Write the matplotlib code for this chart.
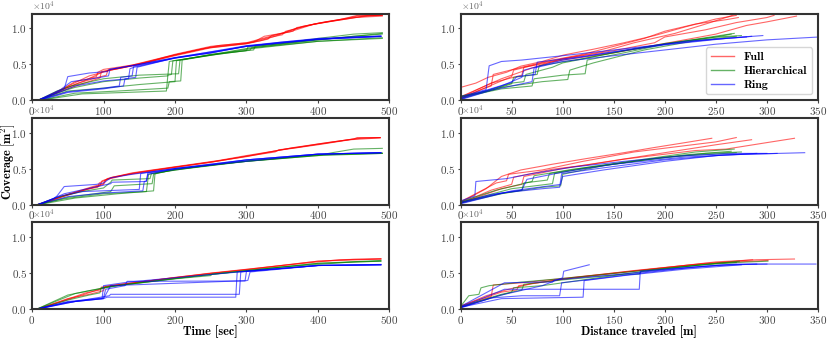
import matplotlib
matplotlib.use("Agg")
import matplotlib.pyplot as plt
from matplotlib.lines import Line2D

# coverage values are in thousands of m^2, one list of (x, coverage) points per run

# --- time, row 1
t1_full = [
    [(8, 0), (30, 0.9), (50, 1.8), (75, 2.8), (100, 4.0), (130, 4.6), (160, 5.2), (200, 6.3), (250, 7.4), (300, 7.9), (320, 8.3), (340, 8.9), (370, 10.0), (400, 10.7), (440, 11.4), (455, 11.7), (490, 11.8)],
    [(8, 0), (30, 0.8), (50, 1.6), (70, 2.3), (95, 3.1), (97, 4.0), (125, 4.5), (165, 5.4), (200, 6.2), (250, 7.3), (300, 7.85), (330, 8.5), (335, 9.0), (365, 9.6), (370, 10.1), (410, 10.9), (450, 11.5), (490, 11.7)],
    [(10, 0), (30, 1.0), (55, 2.2), (80, 3.4), (95, 3.8), (110, 4.2), (150, 5.0), (200, 6.4), (250, 7.5), (300, 8.0), (345, 9.2), (380, 10.3), (420, 11.0), (460, 11.6), (490, 11.9)],
    [(10, 0), (35, 1.1), (60, 2.6), (75, 2.9), (90, 3.3), (92, 3.9), (100, 4.3), (140, 4.9), (185, 6.0), (240, 7.2), (300, 7.9), (330, 8.7), (350, 9.1), (355, 9.6), (390, 10.5), (430, 11.2), (455, 11.8), (488, 11.8)],
    [(9, 0), (40, 1.4), (65, 2.4), (85, 3.0), (104, 3.5), (106, 4.2), (150, 5.1), (200, 6.3), (260, 7.6), (310, 8.1), (325, 8.9), (360, 9.5), (395, 10.6), (440, 11.3), (470, 11.8), (490, 11.8)],
]
t1_hier = [
    [(8, 0), (40, 1.2), (60, 1.8), (100, 2.6), (150, 3.1), (190, 3.4), (192, 5.4), (250, 6.3), (300, 6.9), (302, 7.4), (350, 7.9), (400, 8.6), (450, 9.2), (490, 9.4)],
    [(8, 0), (50, 1.3), (100, 1.7), (150, 2.2), (200, 2.6), (202, 5.5), (250, 6.4), (310, 7.0), (312, 7.5), (400, 8.4), (450, 8.9), (490, 9.2)],
    [(10, 0), (60, 1.0), (120, 1.3), (190, 1.7), (192, 2.6), (208, 2.7), (210, 5.6), (300, 7.1), (400, 8.2), (490, 8.7)],
    [(10, 0), (70, 0.9), (130, 1.1), (188, 1.3), (190, 3.5), (195, 3.6), (197, 5.5), (260, 6.4), (305, 7.0), (307, 7.3), (400, 8.2), (490, 8.6)],
    [(8, 0), (35, 1.3), (55, 2.0), (100, 3.0), (150, 3.5), (205, 3.7), (207, 5.6), (300, 7.2), (400, 8.4), (490, 9.3)],
]
t1_ring = [
    [(8, 0), (30, 0.9), (45, 1.6), (50, 3.3), (80, 3.8), (105, 4.0), (108, 4.3), (140, 4.8), (200, 5.9), (250, 6.6), (300, 7.5), (350, 8.1), (400, 8.5), (450, 8.8), (488, 8.9)],
    [(8, 0), (40, 1.2), (60, 2.0), (100, 2.7), (135, 3.0), (137, 4.4), (143, 4.6), (200, 5.9), (250, 6.6), (300, 7.55), (400, 8.5), (488, 8.9)],
    [(8, 0), (50, 1.2), (100, 1.7), (122, 2.0), (124, 3.2), (140, 3.4), (142, 4.7), (200, 5.85), (250, 6.6), (300, 7.5), (400, 8.45), (488, 8.85)],
    [(10, 0), (50, 1.1), (100, 1.6), (128, 2.0), (130, 3.0), (145, 3.2), (147, 4.6), (200, 5.9), (300, 7.6), (400, 8.6), (488, 8.95)],
    [(8, 0), (40, 1.5), (55, 2.6), (90, 3.1), (107, 3.4), (109, 4.3), (150, 5.0), (200, 5.95), (300, 7.5), (400, 8.5), (488, 8.9)],
]

# --- time, row 2
t2_full = [
    [(8, 0), (40, 1.0), (70, 1.9), (95, 2.6), (98, 3.3), (110, 3.7), (140, 4.3), (200, 5.2), (250, 5.9), (300, 6.7), (340, 7.3), (345, 7.6), (370, 7.9), (400, 8.4), (450, 9.1), (455, 9.3), (487, 9.3)],
    [(8, 0), (45, 1.2), (75, 2.1), (100, 2.8), (105, 3.6), (140, 4.4), (200, 5.25), (260, 6.1), (300, 6.8), (350, 7.6), (400, 8.3), (445, 9.0), (487, 9.25)],
    [(10, 0), (50, 1.4), (80, 2.2), (92, 2.4), (94, 3.0), (112, 3.8), (150, 4.5), (200, 5.2), (250, 5.85), (310, 6.9), (360, 7.8), (410, 8.5), (455, 9.2), (487, 9.3)],
    [(9, 0), (40, 1.1), (85, 2.5), (100, 2.9), (102, 3.4), (130, 4.1), (200, 5.15), (250, 5.9), (300, 6.65), (365, 7.9), (420, 8.7), (460, 9.2), (487, 9.3)],
]
t2_hier = [
    [(8, 0), (45, 0.8), (100, 1.5), (160, 1.8), (163, 4.2), (200, 4.8), (300, 6.0), (400, 6.8), (420, 7.2), (450, 7.7), (490, 7.8)],
    [(8, 0), (50, 1.0), (110, 1.8), (115, 2.6), (168, 2.9), (170, 4.2), (200, 4.9), (300, 6.0), (400, 6.9), (490, 7.15)],
    [(10, 0), (60, 0.9), (120, 1.5), (170, 1.9), (172, 4.3), (200, 4.85), (300, 6.05), (400, 6.9), (490, 7.1)],
    [(8, 0), (35, 1.0), (70, 1.8), (100, 2.3), (110, 3.1), (112, 3.4), (165, 3.6), (167, 4.3), (250, 5.5), (300, 6.0), (400, 6.8), (490, 7.1)],
]
t2_ring = [
    [(8, 0), (30, 0.8), (35, 1.2), (45, 2.5), (90, 2.8), (100, 3.0), (110, 3.7), (140, 4.2), (200, 5.0), (250, 5.5), (300, 6.2), (400, 7.0), (488, 7.2)],
    [(8, 0), (40, 1.2), (70, 1.8), (150, 2.1), (152, 4.3), (200, 5.0), (300, 6.2), (400, 7.0), (488, 7.2)],
    [(8, 0), (50, 1.1), (100, 1.6), (155, 1.9), (157, 3.2), (160, 3.3), (162, 4.4), (250, 5.5), (400, 7.0), (488, 7.2)],
    [(10, 0), (45, 1.5), (110, 2.9), (112, 3.1), (160, 3.2), (162, 4.2), (200, 5.0), (300, 6.2), (400, 7.0), (488, 7.2)],
]

# --- time, row 3
t3_full = [
    [(8, 0), (45, 1.1), (70, 1.9), (100, 2.9), (110, 3.2), (150, 3.7), (200, 4.3), (250, 4.9), (300, 5.4), (350, 6.0), (400, 6.6), (450, 6.85), (488, 6.9)],
    [(9, 0), (40, 1.0), (75, 2.2), (95, 2.6), (97, 3.0), (120, 3.3), (200, 4.35), (300, 5.45), (400, 6.6), (488, 6.9)],
    [(10, 0), (50, 1.4), (80, 2.0), (100, 2.5), (102, 3.1), (150, 3.7), (250, 4.95), (350, 6.0), (430, 6.8), (488, 6.95)],
]
t3_hier = [
    [(8, 0), (30, 1.0), (50, 1.9), (80, 2.5), (100, 2.85), (120, 3.2), (200, 4.2), (300, 5.3), (400, 6.3), (488, 6.6)],
    [(8, 0), (40, 1.3), (60, 2.1), (90, 2.7), (110, 3.1), (200, 4.15), (250, 4.6), (252, 4.8), (300, 5.25), (400, 6.3), (488, 6.7)],
    [(10, 0), (50, 1.2), (80, 1.9), (95, 2.2), (97, 2.9), (150, 3.6), (250, 4.75), (350, 5.8), (450, 6.5), (488, 6.6)],
]
t3_ring = [
    [(8, 0), (50, 0.9), (98, 1.4), (100, 3.2), (135, 3.7), (200, 4.3), (300, 5.2), (400, 6.0), (488, 6.1)],
    [(10, 0), (60, 1.0), (100, 1.4), (105, 1.6), (285, 1.6), (287, 5.1), (300, 5.2), (400, 6.0), (488, 6.1)],
    [(10, 0), (60, 1.0), (108, 1.8), (110, 2.0), (290, 2.0), (292, 5.1), (400, 6.0), (488, 6.1)],
    [(9, 0), (50, 1.0), (100, 1.5), (103, 2.7), (130, 3.2), (133, 3.8), (298, 3.85), (300, 5.2), (400, 6.0), (488, 6.1)],
    [(9, 0), (50, 0.9), (100, 1.4), (110, 3.2), (300, 3.9), (302, 3.95), (305, 5.1), (400, 6.0), (488, 6.15)],
]

# --- distance, row 1
d1_full = [
    [(0, 1.8), (15, 2.4), (27, 3.2), (45, 3.9), (59, 4.75), (80, 5.4), (101, 6.3), (130, 7.1), (160, 8.0), (190, 9.0), (220, 10.2), (250, 11.3), (270, 11.8)],
    [(0, 0.3), (20, 1.5), (30, 2.0), (32, 3.6), (60, 4.6), (90, 5.6), (120, 6.4), (150, 7.5), (180, 8.6), (200, 9.6), (230, 10.6), (260, 11.2), (272, 11.5)],
    [(0, 0.2), (25, 1.8), (50, 3.3), (52, 4.2), (80, 5.2), (110, 6.0), (150, 6.9), (190, 8.0), (200, 8.8), (240, 9.8), (270, 10.8), (300, 11.5), (307, 11.8)],
    [(0, 0.4), (30, 2.4), (60, 3.5), (62, 4.6), (100, 5.6), (150, 6.6), (200, 7.9), (250, 9.2), (280, 10.4), (300, 10.9), (329, 11.7)],
    [(0, 0.5), (40, 3.0), (70, 4.5), (100, 5.8), (140, 6.8), (170, 8.0), (210, 9.3), (240, 10.6), (262, 11.6), (268, 11.9)],
]
d1_hier = [
    [(0, 0.5), (20, 1.0), (40, 1.6), (70, 2.0), (72, 3.0), (100, 3.5), (122, 3.7), (124, 5.6), (160, 6.6), (200, 7.8), (240, 8.7), (268, 9.3)],
    [(0, 0.6), (30, 1.4), (50, 2.3), (52, 3.2), (75, 3.6), (77, 4.8), (120, 5.8), (160, 6.9), (200, 7.8), (250, 8.8), (275, 9.0)],
    [(0, 0.4), (25, 1.3), (50, 2.4), (62, 2.6), (64, 3.6), (90, 4.6), (100, 5.2), (150, 6.6), (200, 7.9), (250, 8.8), (265, 9.2)],
    [(0, 0.2), (40, 1.8), (80, 2.6), (105, 2.9), (107, 4.2), (130, 5.2), (180, 7.0), (230, 8.3), (270, 8.9)],
]
d1_ring = [
    [(0, 0.5), (25, 1.5), (28, 4.8), (40, 5.4), (60, 5.6), (100, 6.2), (150, 7.0), (200, 7.8), (250, 8.5), (296, 9.0)],
    [(0, 0.1), (30, 1.4), (70, 2.6), (72, 4.5), (100, 5.4), (150, 6.2), (200, 7.0), (250, 7.8), (300, 8.4), (351, 8.8)],
    [(0, 0.3), (50, 2.5), (55, 3.3), (73, 3.6), (75, 5.3), (120, 6.1), (170, 7.2), (220, 8.2), (280, 8.8)],
    [(0, 0.2), (40, 2.0), (60, 3.2), (62, 4.2), (100, 5.6), (140, 6.5), (200, 7.7), (260, 8.6), (285, 8.9)],
]

# --- distance, row 2
d2_full = [
    [(0, 0.3), (25, 2.2), (40, 3.9), (59, 4.8), (90, 5.6), (124, 6.4), (160, 7.2), (189, 7.9), (220, 8.6), (246, 9.2)],
    [(0, 0.2), (30, 2.0), (50, 2.8), (52, 3.8), (90, 4.9), (124, 5.5), (160, 6.3), (189, 6.8), (230, 7.5), (260, 7.7), (300, 8.6), (327, 9.2)],
    [(0, 0.4), (35, 3.0), (45, 3.3), (47, 4.2), (80, 4.8), (120, 6.0), (170, 7.3), (210, 8.0), (250, 8.7), (270, 9.3)],
    [(0, 0.2), (40, 2.2), (60, 2.8), (62, 3.9), (100, 5.0), (150, 6.1), (200, 7.2), (250, 8.3), (285, 9.0)],
]
d2_hier = [
    [(0, 0.3), (30, 1.3), (60, 2.0), (62, 3.0), (85, 3.4), (87, 4.3), (130, 5.3), (180, 6.3), (230, 7.3), (268, 7.7)],
    [(0, 0.2), (40, 1.5), (80, 2.4), (98, 2.6), (100, 4.2), (140, 5.4), (200, 6.6), (270, 7.2)],
    [(0, 0.4), (35, 2.0), (70, 3.2), (72, 4.0), (110, 4.9), (160, 5.8), (220, 6.9), (265, 7.4)],
    [(0, 0.3), (50, 2.2), (90, 2.9), (92, 4.3), (120, 5.0), (180, 6.2), (240, 7.1), (275, 7.3)],
]
d2_ring = [
    [(0, 0.5), (14, 1.2), (15, 3.2), (45, 3.6), (70, 4.3), (110, 5.2), (160, 6.0), (220, 6.8), (270, 7.1), (300, 7.1)],
    [(0, 0.2), (40, 1.6), (80, 2.2), (97, 2.4), (99, 4.3), (140, 5.1), (200, 6.2), (260, 6.9), (337, 7.2)],
    [(0, 0.3), (30, 1.4), (60, 2.0), (65, 3.5), (100, 4.5), (150, 5.6), (220, 6.6), (280, 7.0), (310, 7.1)],
    [(0, 0.1), (50, 1.9), (98, 2.8), (100, 3.9), (140, 4.8), (200, 6.0), (250, 6.8), (290, 7.1)],
]

# --- distance, row 3
d3_full = [
    [(0, 0.3), (25, 1.8), (47, 2.7), (70, 3.5), (100, 4.1), (150, 4.9), (200, 5.7), (250, 6.5), (290, 6.8), (327, 6.9)],
    [(0, 0.2), (30, 1.7), (32, 3.3), (60, 3.6), (100, 4.2), (160, 5.1), (220, 6.0), (286, 6.8)],
    [(0, 0.4), (40, 2.3), (55, 2.6), (57, 3.2), (110, 4.3), (170, 5.3), (240, 6.3), (301, 6.7)],
]
d3_hier = [
    [(0, 0.3), (8, 1.8), (18, 2.0), (20, 2.9), (28, 3.2), (60, 3.7), (100, 4.2), (150, 4.9), (200, 5.6), (250, 6.3), (301, 6.6)],
    [(0, 0.2), (30, 1.5), (50, 2.3), (52, 2.9), (80, 3.2), (120, 4.0), (180, 5.2), (230, 6.0), (273, 6.6)],
    [(0, 0.3), (40, 2.0), (60, 2.6), (62, 3.4), (100, 4.0), (160, 4.8), (175, 4.8), (177, 5.2), (230, 6.0), (270, 6.4)],
]
d3_ring = [
    [(0, 0.2), (40, 1.9), (80, 3.2), (100, 4.3), (101, 5.2), (126, 6.1)],
    [(0, 0.1), (30, 1.5), (60, 1.8), (97, 1.8), (99, 3.6), (130, 4.1), (180, 5.0), (230, 5.8), (270, 6.2), (348, 6.2)],
    [(0, 0.2), (40, 1.4), (120, 1.6), (121, 3.9), (160, 4.6), (220, 5.5), (275, 6.1)],
    [(0, 0.2), (43, 2.7), (100, 2.7), (175, 2.7), (176, 5.2), (220, 5.7), (260, 6.1), (300, 6.2)],
    [(0, 0.3), (43, 3.6), (77, 3.7), (90, 3.7), (92, 4.0), (150, 4.7), (200, 5.4), (250, 6.0), (290, 6.2)],
]

methods = ["Full", "Hierarchical", "Ring"]
colors = ["r", "g", "b"]

plt.rcParams["font.family"] = "cmr10"
plt.rcParams["mathtext.fontset"] = "cm"
plt.rcParams["axes.formatter.use_mathtext"] = True
plt.rcParams["axes.unicode_minus"] = False

fig, axes = plt.subplots(3, 2, figsize=(8.3, 3.4), dpi=100)
fig.subplots_adjust(left=0.0386, right=0.9855, bottom=0.0920, top=0.9590,
                    wspace=0.199, hspace=0.205)

panels = [
    (axes[0, 0], [t1_full, t1_hier, t1_ring], 500, 100),
    (axes[1, 0], [t2_full, t2_hier, t2_ring], 500, 100),
    (axes[2, 0], [t3_full, t3_hier, t3_ring], 500, 100),
    (axes[0, 1], [d1_full, d1_hier, d1_ring], 350, 50),
    (axes[1, 1], [d2_full, d2_hier, d2_ring], 350, 50),
    (axes[2, 1], [d3_full, d3_hier, d3_ring], 350, 50),
]

for ax, groups, xmax, xstep in panels:
    for runs, col in zip(groups, colors):
        for run in runs:
            xs = [p[0] for p in run]
            ys = [p[1] * 1000 for p in run]
            ax.plot(xs, ys, color=col, lw=0.8, alpha=0.6)
    ax.set_xlim(0, xmax)
    ax.set_ylim(0, 12000)
    ax.set_xticks(range(0, xmax + 1, xstep))
    ax.set_yticks([0, 5000, 10000])
    ax.ticklabel_format(axis="y", style="sci", scilimits=(0, 0), useMathText=True)
    ax.tick_params(labelsize=8, colors="#444444", length=2.5, width=0.8, pad=1)
    ax.yaxis.get_offset_text().set_fontsize(7)
    ax.yaxis.get_offset_text().set_color("#666666")
    for sp in ax.spines.values():
        sp.set_color("#333333")
        sp.set_linewidth(1.5)

axes[2, 0].set_xlabel("Time [sec]", family="cmb10", fontsize=8.8, labelpad=0)
axes[2, 1].set_xlabel("Distance traveled [m]", family="cmb10", fontsize=8.8, labelpad=0)
axes[1, 0].set_ylabel(r"$\mathbf{Coverage\ [m^2]}$", fontsize=8.8)
axes[1, 0].yaxis.set_label_coords(-0.042, 0.5)

handles = [Line2D([], [], color=c, lw=1.0, alpha=0.6) for c in colors]
axes[0, 1].legend(handles, methods, loc="lower right", prop={"family": "cmb10", "size": 8.5},
                  handlelength=2.0, borderpad=0.4, labelspacing=0.3)

fig.savefig("out.png", dpi=100)
